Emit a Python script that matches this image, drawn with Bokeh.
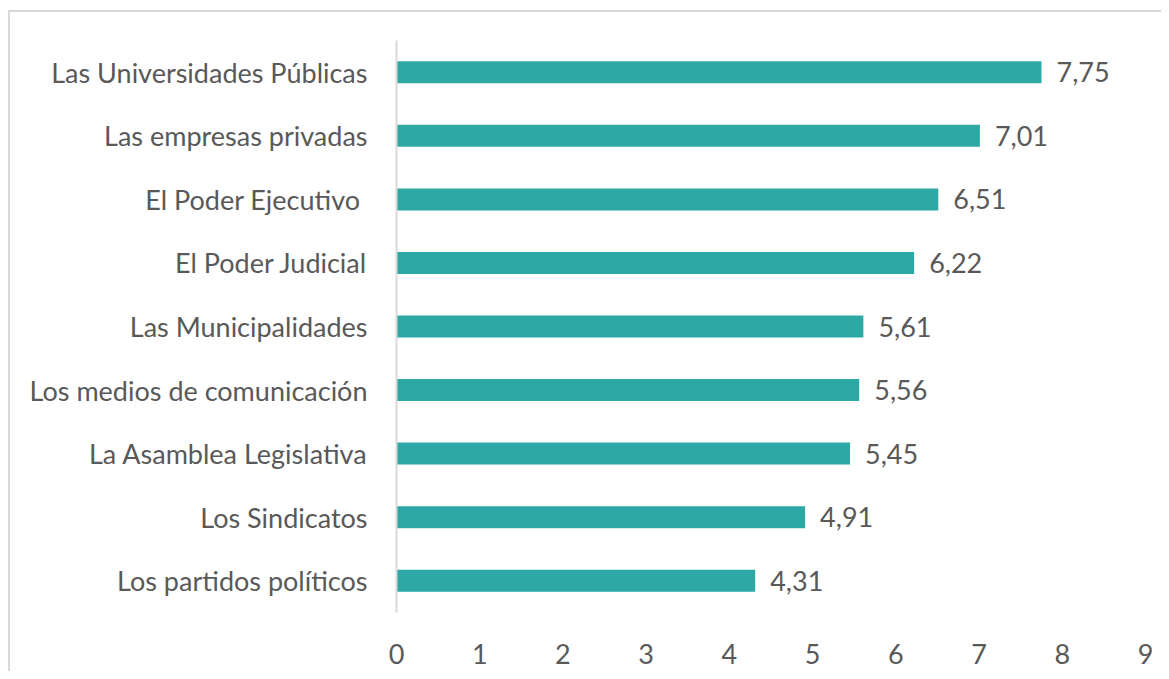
from bokeh.plotting import figure
from bokeh.models import ColumnDataSource, FactorRange, Range1d, FixedTicker
from bokeh.core.properties import value
from bokeh.embed import file_html
from bokeh.resources import INLINE

categories = [
    "Las Universidades Públicas",
    "Las empresas privadas",
    "El Poder Ejecutivo ",
    "El Poder Judicial",
    "Las Municipalidades",
    "Los medios de comunicación",
    "La Asamblea Legislativa",
    "Los Sindicatos",
    "Los partidos políticos",
]
values = [7.75, 7.01, 6.51, 6.22, 5.61, 5.56, 5.45, 4.91, 4.31]
x_ticks = [0, 1, 2, 3, 4, 5, 6, 7, 8, 9]

labels = [f"{v:.2f}".replace(".", ",") for v in values]
src = ColumnDataSource(dict(cat=categories, val=values, lab=labels))

FONT = "Lato"
TEXT_COLOR = "#595959"
BORDER = "#d9d9d9"

W, H = 1161, 671
p = figure(
    width=W, height=H,
    y_range=FactorRange(factors=list(reversed(categories))),
    x_range=Range1d(0, 9),
    output_backend="svg", toolbar_location=None,
    min_border_left=396, min_border_right=16,
    min_border_top=40, min_border_bottom=59,
)
p.outline_line_color = None
p.background_fill_color = "white"
p.border_fill_color = "white"
p.border_fill_alpha = 0.0

# chart-area border (top and left edges visible in the crop), painted behind the transparent canvas border
line_img = f"linear-gradient({BORDER}, {BORDER})"
p.styles = {
    "background-color": "white",
    "background-image": f"{line_img}, {line_img}",
    "background-size": "100% 2px, 2px 100%",
    "background-position": "8px 10px, 8px 10px",
    "background-repeat": "no-repeat",
}

p.hbar(y="cat", right="val", left=0, height=0.346, source=src,
       fill_color="#2ca9a5", line_color="#2ca9a5", line_width=0)

p.text(x="val", y="cat", text="lab", source=src,
       x_offset=15, text_baseline="middle", text_align="left",
       text_font=value(FONT), text_font_size="27px", text_color=TEXT_COLOR)

p.xgrid.visible = False
p.ygrid.visible = False

p.xaxis.ticker = FixedTicker(ticks=x_ticks)
p.xaxis.axis_line_color = None
p.xaxis.major_tick_line_color = None
p.xaxis.minor_tick_line_color = None
p.xaxis.major_tick_out = 0
p.xaxis.major_label_standoff = 31
p.xaxis.major_label_text_font = FONT
p.xaxis.major_label_text_font_size = "27px"
p.xaxis.major_label_text_color = TEXT_COLOR

p.yaxis.axis_line_color = BORDER
p.yaxis.axis_line_width = 2
p.yaxis.major_tick_line_color = None
p.yaxis.minor_tick_line_color = None
p.yaxis.major_tick_out = 0
p.yaxis.major_label_standoff = 29
p.yaxis.major_label_text_font = FONT
p.yaxis.major_label_text_font_size = "27px"
p.yaxis.major_label_text_color = TEXT_COLOR

open("out.html", "w").write(file_html(p, INLINE))
